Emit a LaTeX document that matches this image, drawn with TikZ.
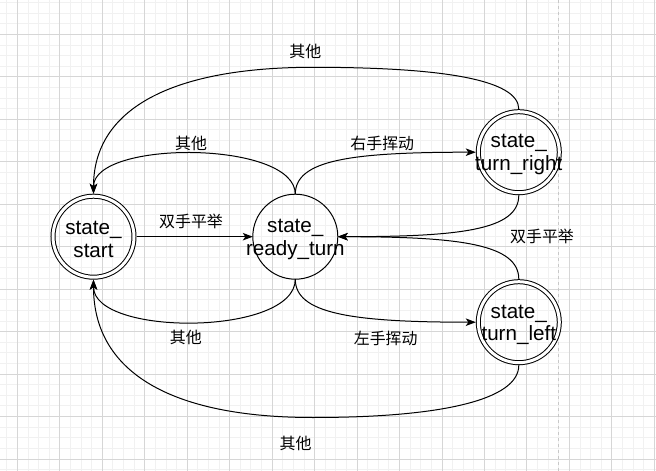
\documentclass[tikz,border=0pt]{standalone}
\usepackage{fontspec}
\setmainfont{Liberation Sans}
\newfontfamily\cjk{Noto Sans CJK SC}
\usetikzlibrary{arrows.meta}

\definecolor{gridminor}{RGB}{241,241,241}
\definecolor{gridmajor}{RGB}{214,214,214}
\definecolor{pageline}{RGB}{200,200,200}

\tikzset{
    stnode/.style={circle, draw, line width=1bp, minimum size=85bp, inner sep=0pt, outer sep=0pt},
    stfinal/.style={circle, draw, line width=1bp, double, double distance=3bp, minimum size=81bp, inner sep=0pt, outer sep=2.5bp},
    stlabel/.style={align=center, yshift=-2.5bp, font=\fontsize{20.7}{22.7}\selectfont},
    trans/.style={-{Stealth[length=10bp, width=7.5bp, inset=2.5bp]}, line width=1bp},
    cond/.style={font=\cjk\fontsize{16}{18}\selectfont, inner sep=0pt}
}

\begin{document}
\begin{tikzpicture}[x=1bp, y=-1bp]
    \useasboundingbox (0,0) rectangle (656,471);

    % Grid
    \foreach \i in {0,...,61} {
        \pgfmathtruncatemacro{\m}{mod(\i,4)}
        \ifnum\m=1 \else
            \draw[gridminor, line width=0.8bp] ({6.685+\i*10.615},0) -- ({6.685+\i*10.615},471);
        \fi
    }
    \foreach \j in {0,...,44} {
        \pgfmathtruncatemacro{\m}{mod(\j,4)}
        \ifnum\m=3 \else
            \draw[gridminor, line width=0.8bp] (0,{2.455+\j*10.615}) -- (656,{2.455+\j*10.615});
        \fi
    }
    \foreach \i in {1,5,...,61}
        \draw[gridmajor, line width=0.8bp] ({6.685+\i*10.615},0) -- ({6.685+\i*10.615},471);
    \foreach \j in {3,7,...,44}
        \draw[gridmajor, line width=0.8bp] (0,{2.455+\j*10.615}) -- (656,{2.455+\j*10.615});
    \draw[pageline, line width=1bp, dash pattern=on 3bp off 3bp] (558,0) -- (558,471);

    % States
    \node[stfinal, label={[stlabel]center:{state\_\\start}}] (start) at (93.5,236.7) {};
    \node[stnode, label={[stlabel]center:{state\_\\ready\_turn}}] (ready) at (295.3,236.7) {};
    \node[stfinal, label={[stlabel]center:{state\_\\turn\_right}}] (right) at (518.8,152.2) {};
    \node[stfinal, label={[stlabel]center:{state\_\\turn\_left}}] (left) at (518.8,322.2) {};

    \coordinate (toparc) at (313,67.3);
    \coordinate (botarc) at (313,417.5);

    % Transitions
    \draw[trans] (start) -- (ready);
    \draw[trans] (ready.north) .. controls +(0,-34) and +(-126,0) .. (right.west);
    \draw[trans] (ready.north) .. controls +(0,-54) and +(0,-54) .. (start.north);
    \draw[trans] (right.north) .. controls +(0,-30) and +(127,0) .. (toparc)
        .. controls +(-143,0) and +(0,-84) .. (start.north);
    \draw[trans] (right.south) .. controls +(0,35) and +(122,0) .. (ready.east);
    \draw[trans] (left.north) .. controls +(0,-35) and +(122,0) .. (ready.east);
    \draw[trans] (ready.south) .. controls +(0,34) and +(-126,0) .. (left.west);
    \draw[trans] (ready.south) .. controls +(0,57) and +(0,57) .. (start.south);
    \draw[trans] (left.south) .. controls +(0,35) and +(127,0) .. (botarc)
        .. controls +(-143,0) and +(0,92) .. (start.south);

    % Labels
    \node[cond] (pingju) at (191,221.7) {双手平举};
    \node[cond] (qitatop) at (305.3,51.7) {其他};
    \node[cond] (qitaup) at (191,143.3) {其他};
    \node[cond] (youshou) at (382.3,143.3) {右手挥动};
    \node[cond] (pingjuback) at (542,236.7) {双手平举};
    \node[cond] (qitadown) at (185.8,337.3) {其他};
    \node[cond] (zuoshou) at (385.7,338.3) {左手挥动};
    \node[cond] (qitabot) at (295.5,443.3) {其他};
\end{tikzpicture}
\end{document}
